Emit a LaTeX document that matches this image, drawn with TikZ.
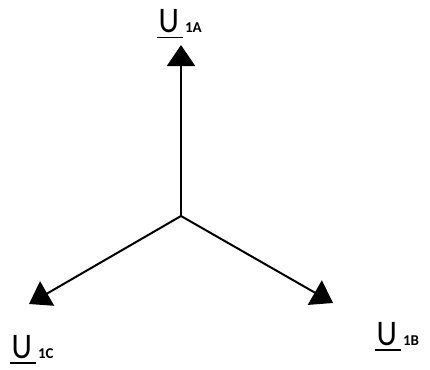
\documentclass[tikz,border=0pt]{standalone}
\usepackage{fontspec}
\setmainfont{Carlito}
\usepackage{tikz}
\usetikzlibrary{arrows.meta}

% underlined phasor symbol with its index
\newcommand{\phasor}[1]{\rlap{\rule[-5.5pt]{26pt}{1.5pt}}\kern1.5pt\scalebox{0.88}[1]{\fontsize{36}{36}\selectfont U}\kern6pt{\fontsize{15}{15}\selectfont\bfseries #1}}

\begin{document}
\begin{tikzpicture}[x=1pt, y=-1pt,
        vec/.style={line width=2pt, -{Triangle[length=21pt, width=28pt]}},
        lbl/.style={anchor=base west, inner sep=0pt}]
                \useasboundingbox (0, 0) rectangle (430, 369);

                \coordinate (O) at (181, 216);
                \coordinate (A) at (181, 45);
                \coordinate (B) at (333, 303);
                \coordinate (C) at (29, 304);

                \draw[vec] (O) -- (A);
                \draw[vec] (O) -- (B);
                \draw[vec] (O) -- (C);

                \node[lbl] (lblA) at (157, 33) {\phasor{1A}};
                \node[lbl] (lblB) at (375, 345) {\phasor{1B}};
                \node[lbl] (lblC) at (10, 358) {\phasor{1C}};
            \end{tikzpicture}
\end{document}
